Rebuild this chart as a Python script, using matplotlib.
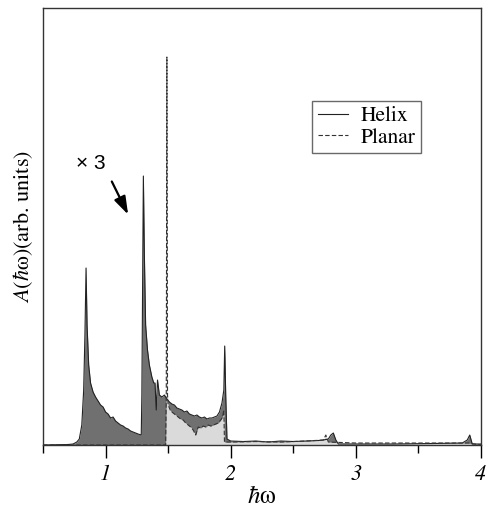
import matplotlib
matplotlib.use("Agg")
import matplotlib.pyplot as plt
import numpy as np

plt.rcParams['font.family'] = ['STIXGeneral', 'DejaVu Serif']
plt.rcParams['mathtext.fontset'] = 'stix'

# helix spectrum (hbar omega, arb. units)
helix_x = [0.50, 0.70, 0.74, 0.77, 0.79, 0.81, 0.825, 0.835, 0.844, 0.852, 0.865, 0.88,
           0.90, 0.92, 0.94, 0.96, 0.98, 1.00, 1.02, 1.04, 1.06, 1.08, 1.10, 1.12, 1.14,
           1.16, 1.18, 1.20, 1.22, 1.24, 1.26, 1.285, 1.29, 1.297, 1.302, 1.31, 1.32,
           1.335, 1.35, 1.37, 1.385, 1.395, 1.405, 1.415, 1.43, 1.45, 1.47, 1.49, 1.51,
           1.53, 1.55, 1.57, 1.59, 1.61, 1.63, 1.65, 1.67, 1.69, 1.71, 1.73, 1.75, 1.77,
           1.79, 1.81, 1.83, 1.85, 1.87, 1.89, 1.91, 1.93, 1.945, 1.952, 1.96, 1.97,
           2.00, 2.10, 2.20, 2.30, 2.40, 2.50, 2.60, 2.70, 2.74, 2.78, 2.80, 2.82,
           2.84, 2.86, 3.00, 3.30, 3.60, 3.85, 3.89, 3.91, 3.93, 4.00]
helix_y = [0.00, 0.005, 0.01, 0.03, 0.06, 0.20, 0.55, 1.10, 1.77, 1.20, 0.80, 0.62,
           0.53, 0.48, 0.44, 0.40, 0.38, 0.33, 0.31, 0.27, 0.28, 0.24, 0.22, 0.20, 0.19,
           0.17, 0.16, 0.14, 0.13, 0.12, 0.11, 0.10, 0.50, 1.80, 2.69, 1.90, 1.20,
           0.95, 0.80, 0.68, 0.62, 0.62, 0.35, 0.65, 0.50, 0.48, 0.50, 0.46, 0.43,
           0.41, 0.40, 0.37, 0.36, 0.35, 0.33, 0.34, 0.31, 0.30, 0.29, 0.30, 0.28, 0.27,
           0.28, 0.26, 0.27, 0.27, 0.28, 0.29, 0.33, 0.42, 0.55, 0.99, 0.50, 0.06,
           0.04, 0.035, 0.04, 0.03, 0.04, 0.035, 0.04, 0.045, 0.05, 0.06, 0.10, 0.12,
           0.05, 0.01, 0.01, 0.01, 0.015, 0.02, 0.05, 0.10, 0.01, 0.01]

# planar spectrum
planar_x = [0.50, 1.480, 1.485, 1.490, 1.495, 1.50, 1.52, 1.54, 1.56, 1.58, 1.60, 1.62,
            1.64, 1.66, 1.68, 1.70, 1.72, 1.74, 1.76, 1.78, 1.80, 1.82, 1.84, 1.86,
            1.88, 1.90, 1.92, 1.935, 1.945, 1.95, 2.00, 2.20, 2.40, 2.60, 2.74, 2.76,
            2.78, 3.00, 3.40, 3.90, 4.00]
planar_y = [0.00, 0.00, 0.50, 3.88, 0.50, 0.40, 0.34, 0.32, 0.30, 0.28, 0.26, 0.25,
            0.22, 0.20, 0.18, 0.15, 0.10, 0.18, 0.17, 0.19, 0.18, 0.20, 0.19, 0.20,
            0.21, 0.22, 0.25, 0.28, 0.35, 0.03, 0.03, 0.035, 0.03, 0.04, 0.05, 0.10,
            0.03, 0.02, 0.02, 0.02, 0.00]

fig = plt.figure(figsize=(4.87, 5.14), dpi=100)
ax = fig.add_axes([0.0883, 0.1342, 0.8994, 0.8502])

ax.fill_between(helix_x, helix_y, color='#707070', lw=0, zorder=1)
ax.fill_between(planar_x, planar_y, color='#dadada', lw=0, zorder=2)
ax.plot(helix_x, helix_y, color='#222222', lw=0.8, label='Helix', zorder=3)
ax.plot(planar_x, planar_y, color='#333333', lw=0.8, ls=(0, (4, 2)), label='Planar', zorder=4)

ax.text(0.88, 2.82, '× 3', fontsize=15, family='Liberation Sans', ha='center', va='center')
ax.annotate('', xy=(1.19, 2.28), xytext=(1.04, 2.66),
            arrowprops=dict(arrowstyle='-|>,head_length=0.9,head_width=0.3', color='black',
                            lw=1.6, mutation_scale=12))

ax.set_xlim(0.5, 4.0)
ax.set_ylim(0, 4.37)
ax.set_xticks([1, 2, 3, 4])
ax.set_xticks([0.5, 1.5, 2.5, 3.5], minor=True)
ax.set_xticklabels(['1', '2', '3', '4'], fontstyle='italic', fontsize=16)
ax.tick_params(axis='x', which='major', direction='out', length=9, width=1, pad=5)
ax.tick_params(axis='x', which='minor', direction='out', length=5.5, width=1)
ax.set_yticks([])
for s in ax.spines.values():
    s.set_color('#333333')
    s.set_linewidth(1)

ax.set_xlabel(r'$\hbar\mathrm{\omega}$', fontsize=18, labelpad=0)
ax.set_ylabel(r'$A(\hbar\mathrm{\omega})$(arb. units)', fontsize=16, labelpad=6)

leg = ax.legend(loc='upper left', bbox_to_anchor=(0.641, 0.8035), bbox_transform=fig.transFigure,
                fontsize=15.5, frameon=True, fancybox=False, handlelength=1.4,
                borderpad=0.25, labelspacing=0.05, handletextpad=0.6, borderaxespad=0)
leg.get_frame().set_edgecolor('#444444')
leg.get_frame().set_linewidth(1)

fig.savefig('out.png', dpi=100)
